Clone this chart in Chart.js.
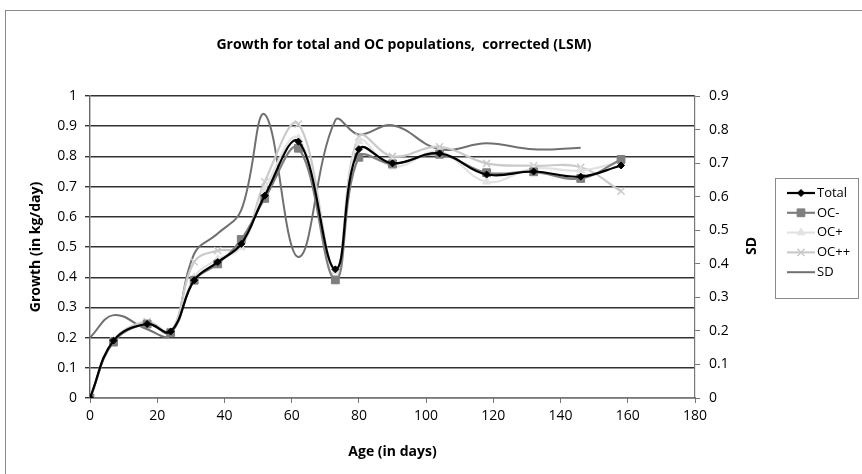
<!DOCTYPE html>
<html>
<head>
<meta charset="utf-8">
<script src="https://cdn.jsdelivr.net/npm/chart.js@4.4.0/dist/chart.umd.min.js"></script>
<style>
  html, body { margin: 0; padding: 0; background: #fff; }
  #wrap { width: 862px; height: 474px; }
</style>
</head>
<body>
<div id="wrap"><canvas id="chart" width="862" height="474"></canvas></div>
<script>
// values
const ages = [0, 7, 17, 24, 31, 38, 45, 52, 62, 73, 80, 90, 104, 118, 132, 146, 158];
const total = [0, 0.19, 0.245, 0.22, 0.39, 0.45, 0.51, 0.67, 0.849, 0.426, 0.824, 0.777, 0.81, 0.74, 0.75, 0.733, 0.77];
const ocMinus = [0, 0.185, 0.245, 0.216, 0.39, 0.444, 0.525, 0.661, 0.827, 0.391, 0.797, 0.775, 0.807, 0.746, 0.749, 0.727, 0.79];
const ocPlus = [0, 0.19, 0.245, 0.22, 0.40, 0.46, 0.50, 0.69, 0.86, 0.42, 0.85, 0.766, 0.815, 0.716, 0.76, 0.753, 0.783];
const ocPlusPlus = [0, 0.19, 0.253, 0.22, 0.451, 0.488, 0.501, 0.716, 0.907, 0.42, 0.865, 0.80, 0.832, 0.777, 0.769, 0.764, 0.685];
const sdAges = [0, 7, 17, 24, 31, 38, 45, 52, 62, 73, 80, 90, 104, 118, 132, 146];
const sd = [0.18, 0.247, 0.205, 0.188, 0.43, 0.49, 0.56, 0.845, 0.42, 0.828, 0.785, 0.813, 0.741, 0.759, 0.741, 0.746];

const ageTicks = [0, 20, 40, 60, 80, 100, 120, 140, 160, 180];
const growthTicks = [0, 0.1, 0.2, 0.3, 0.4, 0.5, 0.6, 0.7, 0.8, 0.9, 1];
const sdTicks = [0, 0.1, 0.2, 0.3, 0.4, 0.5, 0.6, 0.7, 0.8, 0.9];

const FONT = "'Open Sans', 'Liberation Sans', sans-serif";
Chart.defaults.font.family = FONT;
Chart.defaults.font.size = 14;
Chart.defaults.color = '#000';

const pts = (xs, ys) => xs.map((x, i) => ({ x: x, y: ys[i] }));

// title, right axis title, legend box and outer frame, drawn the Excel way
const excelFrame = {
  id: 'excelFrame',
  beforeDraw(chart) {
    const ctx = chart.ctx;
    ctx.save();
    ctx.fillStyle = '#fff';
    ctx.fillRect(0, 0, chart.width, chart.height);
    ctx.strokeStyle = '#8a8a8a';
    ctx.lineWidth = 1;
    ctx.strokeRect(5.5, 10.5, chart.width + 10, chart.height + 10);
    ctx.restore();
  },
  afterDraw(chart) {
    const ctx = chart.ctx;
    ctx.save();
    ctx.fillStyle = '#000';
    ctx.font = 'bold 14px ' + FONT;
    ctx.textAlign = 'center';
    ctx.textBaseline = 'middle';
    ctx.fillText('Growth for total and OC populations,  corrected (LSM)', 404, 45);

    ctx.translate(752, 246);
    ctx.rotate(-Math.PI / 2);
    ctx.font = 'bold 14px ' + FONT;
    ctx.fillText('SD', 0, 0);
    ctx.restore();

    // legend
    ctx.save();
    ctx.strokeStyle = '#8a8a8a';
    ctx.lineWidth = 1;
    ctx.strokeRect(775.5, 178.5, 83, 120);
    ctx.font = '13px ' + FONT;
    ctx.textAlign = 'left';
    ctx.textBaseline = 'middle';
    chart.data.datasets.forEach((ds, i) => {
      const y = 193 + i * 19.8;
      ctx.strokeStyle = ds.borderColor;
      ctx.lineWidth = ds.borderWidth;
      ctx.beginPath();
      ctx.moveTo(787, y);
      ctx.lineTo(815, y);
      ctx.stroke();
      if (ds.pointRadius > 0) {
        ctx.fillStyle = ds.pointBackgroundColor;
        ctx.strokeStyle = ds.pointBorderColor;
        ctx.lineWidth = ds.pointBorderWidth;
        Chart.helpers.drawPoint(ctx, {
          pointStyle: ds.pointStyle, radius: ds.pointRadius, rotation: 0, borderWidth: ds.pointBorderWidth
        }, 801, y);
      }
      ctx.fillStyle = '#000';
      ctx.fillText(ds.label, 817, y);
    });
    ctx.restore();
  }
};

new Chart(document.getElementById('chart'), {
  type: 'line',
  data: {
    datasets: [
      {
        label: 'Total', data: pts(ages, total), yAxisID: 'y', order: 1,
        borderColor: '#000', borderWidth: 2.2, tension: 0.4,
        pointStyle: 'rectRot', pointRadius: 3.5, pointBackgroundColor: '#000',
        pointBorderColor: '#000', pointBorderWidth: 1
      },
      {
        label: 'OC-', data: pts(ages, ocMinus), yAxisID: 'y', order: 2,
        borderColor: '#7f7f7f', borderWidth: 2.2, tension: 0.4,
        pointStyle: 'rect', pointRadius: 5.5, pointBackgroundColor: '#7f7f7f',
        pointBorderColor: '#7f7f7f', pointBorderWidth: 1
      },
      {
        label: 'OC+', data: pts(ages, ocPlus), yAxisID: 'y', order: 3,
        borderColor: '#e2e2e2', borderWidth: 2.2, tension: 0.4,
        pointStyle: 'triangle', pointRadius: 4.5, pointBackgroundColor: '#e2e2e2',
        pointBorderColor: '#e2e2e2', pointBorderWidth: 1
      },
      {
        label: 'OC++', data: pts(ages, ocPlusPlus), yAxisID: 'y', order: 4,
        borderColor: '#cacaca', borderWidth: 2.2, tension: 0.4,
        pointStyle: 'crossRot', pointRadius: 5, pointBackgroundColor: '#cacaca',
        pointBorderColor: '#cacaca', pointBorderWidth: 1.5
      },
      {
        label: 'SD', data: pts(sdAges, sd), yAxisID: 'y2', order: 5,
        borderColor: '#707070', borderWidth: 2, tension: 0.4,
        pointRadius: 0, pointBackgroundColor: '#707070',
        pointBorderColor: '#707070', pointBorderWidth: 1
      }
    ]
  },
  options: {
    responsive: false,
    animation: false,
    layout: { padding: { top: 96, right: 0, left: 0, bottom: 0 } },
    plugins: {
      legend: { display: false },
      title: { display: false },
      tooltip: { enabled: false }
    },
    scales: {
      x: {
        type: 'linear', min: 0, max: 180,
        afterBuildTicks: s => { s.ticks = ageTicks.map(v => ({ value: v })); },
        afterFit: s => { s.height = 76; },
        grid: { drawOnChartArea: false, drawTicks: true, tickLength: 5, color: '#777' },
        border: { color: '#777', width: 1.2 },
        ticks: { padding: 5, maxRotation: 0, callback: v => String(v) },
        title: { display: true, text: 'Age (in days)', font: { weight: 'bold', size: 14 }, padding: { top: 0, bottom: 14 } }
      },
      y: {
        position: 'left', min: 0, max: 1,
        afterBuildTicks: s => { s.ticks = growthTicks.map(v => ({ value: v })); },
        afterFit: s => { s.width = 90; },
        grid: { color: '#333', lineWidth: 1.4, tickLength: 5 },
        border: { color: '#666', width: 1.4 },
        ticks: { padding: 8, callback: v => String(v) },
        title: { display: true, text: 'Growth (in kg/day)', font: { weight: 'bold', size: 14 }, padding: { top: 28, bottom: 0 } }
      },
      y2: {
        position: 'right', min: 0, max: 0.9,
        afterBuildTicks: s => { s.ticks = sdTicks.map(v => ({ value: v })); },
        afterFit: s => { s.width = 167; },
        grid: { drawOnChartArea: false, color: '#777', tickLength: 5 },
        border: { color: '#777', width: 1.2 },
        ticks: { padding: 9, callback: v => String(v) }
      }
    }
  },
  plugins: [excelFrame]
});
</script>
</body>
</html>
